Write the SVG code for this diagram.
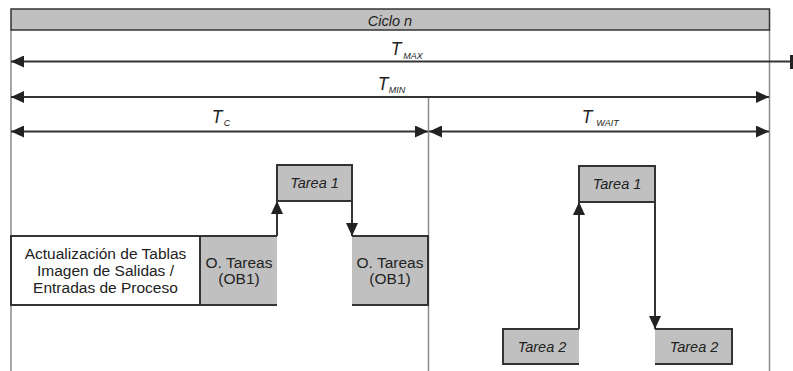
<svg xmlns="http://www.w3.org/2000/svg" width="793" height="371" viewBox="0 0 793 371">
<style>
  .frame{stroke:#8a8a8a;stroke-width:1.5;fill:none}
  .conn{stroke:#333;stroke-width:2;fill:none}
  .edge{stroke:#333;stroke-width:2;fill:none}
  .gray{fill:#c0c0c0}
  .txt{font-family:"Liberation Sans",Arial,sans-serif;fill:#222;text-anchor:middle}
  .it{font-style:italic}
  .box{font-size:15.5px}
  .task{font-size:14.5px}
  .T{font-size:17.5px}
  .sub{font-size:9px}
</style>
<defs>
  <marker id="ah" viewBox="0 0 13 12" refX="13" refY="6" markerWidth="13" markerHeight="12" markerUnits="userSpaceOnUse" orient="auto-start-reverse">
    <path d="M0,0 L13,6 L0,12 Z" fill="#222"/>
  </marker>
</defs>
<rect x="0" y="0" width="793" height="371" fill="#fff"/>
<g id="frame">
  <line class="frame" x1="11" y1="30" x2="11" y2="371"/>
  <line class="frame" x1="769.5" y1="30" x2="769.5" y2="371"/>
  <line class="frame" x1="428.5" y1="97" x2="428.5" y2="371"/>
</g>
<g id="ciclo">
  <rect x="11" y="9" width="758.5" height="21" class="gray" stroke="#333" stroke-width="1.5"/>
  <text class="txt it" x="390" y="25.5" font-size="14.5">Ciclo n</text>
</g>
<g id="connectors">
  <line class="conn" x1="11" y1="61.5" x2="791" y2="61.5" marker-start="url(#ah)"/>
  <rect x="790" y="55" width="3" height="14" fill="#222"/>
  <line class="conn" x1="11" y1="97" x2="769" y2="97" marker-start="url(#ah)" marker-end="url(#ah)"/>
  <line class="conn" x1="11" y1="131.5" x2="428" y2="131.5" marker-start="url(#ah)" marker-end="url(#ah)"/>
  <line class="conn" x1="429" y1="131.5" x2="769" y2="131.5" marker-start="url(#ah)" marker-end="url(#ah)"/>
  <line class="conn" x1="277" y1="236" x2="277" y2="201" marker-end="url(#ah)"/>
  <line class="conn" x1="352" y1="201" x2="352" y2="236" marker-end="url(#ah)"/>
  <line class="conn" x1="579" y1="329" x2="579" y2="202" marker-end="url(#ah)"/>
  <line class="conn" x1="655" y1="202" x2="655" y2="329" marker-end="url(#ah)"/>
  <text class="txt it T" x="396" y="55">T</text><text class="txt it sub" x="413" y="58.5">MAX</text>
  <text class="txt it T" x="383" y="90">T</text><text class="txt it sub" x="397" y="93">MIN</text>
  <text class="txt it T" x="217" y="123">T</text><text class="txt it sub" x="227" y="126">C</text>
  <text class="txt it T" x="587" y="123">T</text><text class="txt it sub" x="607.5" y="126">WAIT</text>
</g>
<g id="actualizacion">
  <rect x="11" y="236" width="189" height="69" fill="#fff" stroke="#333" stroke-width="2"/>
  <text class="txt box" x="105.5" y="259">Actualización de Tablas</text>
  <text class="txt box" x="105.5" y="276">Imagen de Salidas /</text>
  <text class="txt box" x="105.5" y="293">Entradas de Proceso</text>
</g>
<g id="otareas1">
  <rect x="200" y="236" width="77" height="69" class="gray"/>
  <path class="edge" d="M277,236 H200 V305 H277"/>
  <text class="txt box" x="239" y="268">O. Tareas</text>
  <text class="txt box" x="239" y="284">(OB1)</text>
</g>
<g id="tarea1a">
  <rect x="277" y="165" width="75" height="36" class="gray" stroke="#333" stroke-width="2"/>
  <text class="txt it task" x="314.5" y="188">Tarea 1</text>
</g>
<g id="otareas2">
  <rect x="352" y="236" width="76" height="69" class="gray"/>
  <path class="edge" d="M352,236 H428 V305 H352"/>
  <text class="txt box" x="390" y="268">O. Tareas</text>
  <text class="txt box" x="390" y="284">(OB1)</text>
</g>
<g id="tarea1b">
  <rect x="579" y="166" width="76" height="36" class="gray" stroke="#333" stroke-width="2"/>
  <text class="txt it task" x="617" y="189">Tarea 1</text>
</g>
<g id="tarea2a">
  <rect x="503" y="329" width="76" height="35" class="gray"/>
  <path class="edge" d="M579,329 H503 V364 H579"/>
  <text class="txt it task" x="542" y="352">Tarea 2</text>
</g>
<g id="tarea2b">
  <rect x="655" y="329" width="77" height="35" class="gray"/>
  <path class="edge" d="M655,329 H732 V364 H655"/>
  <text class="txt it task" x="694" y="352">Tarea 2</text>
</g>
</svg>
